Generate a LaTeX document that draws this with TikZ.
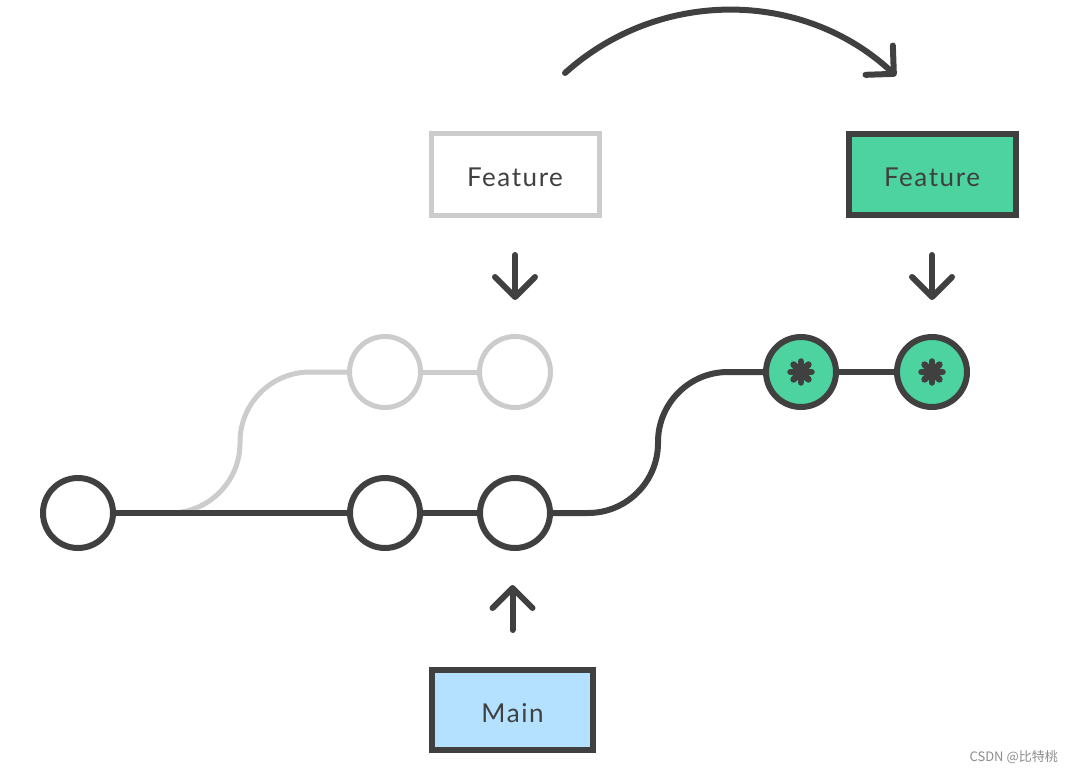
\documentclass[tikz,border=0pt]{standalone}
\usepackage{fontspec}
\setmainfont{Lato}
\newfontfamily\lab[LetterSpace=6]{Lato}
\newfontfamily\cjk{Noto Sans CJK SC}
\usetikzlibrary{arrows.meta,backgrounds}
\definecolor{dk}{HTML}{404040}
\definecolor{lg}{HTML}{CCCCCC}
\definecolor{gn}{HTML}{4CD3A0}
\definecolor{bl}{HTML}{B3E1FF}
\begin{document}
\begin{tikzpicture}[x=1pt,y=-1pt,
  commit/.style={circle, draw=dk, line width=6pt, fill=white, minimum size=70pt, inner sep=0pt},
  ghost/.style={circle, draw=lg, line width=5pt, fill=white, minimum size=71pt, inner sep=0pt},
  newc/.style={commit, fill=gn},
  box/.style={rectangle, line width=6pt, text=dk, inner sep=0pt, text height=24pt, text depth=0pt, font=\lab\fontsize{26}{30}\selectfont},
  dline/.style={dk, line width=6pt},
  gline/.style={lg, line width=5pt},
  arr/.style={dk, line width=6pt, line cap=round, -{Straight Barb[length=20pt, width=40pt, round]}},
  star/.style={dk, line width=6.5pt, line cap=round}
]
\useasboundingbox (0,0) rectangle (1073,773);
% commits
\node[commit] (c1) at (78,513) {};
\node[commit] (c2) at (385,513) {};
\node[commit] (c3) at (515,513) {};
\node[ghost] (o1) at (385,372) {};
\node[ghost] (o2) at (515,372) {};
\node[newc] (n1) at (801,372) {};
\node[newc] (n2) at (932,372) {};
% asterisks
\foreach \n in {n1,n2}{
  \foreach \a in {0,45,90,135}{
    \draw[star] (\n.center) ++(\a:10.5) -- ++(\a+180:21);
  }
  \fill[dk] (\n.center) circle (7.5);
}
% labels
\node[box, draw=lg, line width=5pt, minimum width=168pt, minimum height=82pt] (fold) at (515,174.5) {Feature};
\node[box, draw=dk, fill=gn, minimum width=167pt, minimum height=81pt] (fnew) at (932,174.5) {Feature};
\node[box, draw=dk, fill=bl, minimum width=161pt, minimum height=80pt, text height=25pt] (main) at (512.5,710) {Main};
% connectors
\begin{scope}[on background layer]
  \draw[gline, rounded corners=70pt] (c1.east) -- (240,513) -- (240,372) -- (o1.west);
  \draw[dline] (c1) -- (c2);
  \draw[dline] (c2) -- (c3);
  \draw[gline] (o1) -- (o2);
  \draw[dline, rounded corners=70pt] (c3.east) -- (658,513) -- (658,372) -- (n1.west);
  \draw[dline] (n1) -- (n2);
\end{scope}
% pointer arrows
\draw[arr, shorten <=37pt, shorten >=34pt] (fold.south) -- (fold.south |- o2.north);
\draw[arr, shorten <=37pt, shorten >=34pt] (fnew.south) -- (fnew.south |- n2.north);
\draw[arr, shorten <=37pt, shorten >=34pt] (main.north) -- (main.north |- c3.south);
% rebase arc
\coordinate (a1) at (565,73);
\draw[arr] (a1) arc[start angle=132, end angle=47, radius=245pt];
% watermark
\node[anchor=east, text=black!45, font=\cjk\fontsize{13}{15}\selectfont, inner sep=0pt] (wm) at (1058,757) {CSDN @比特桃};
\end{tikzpicture}
\end{document}
